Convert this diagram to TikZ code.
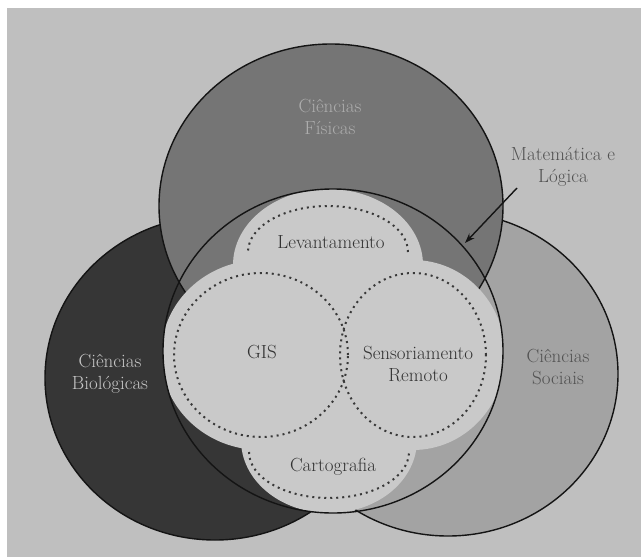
\documentclass[tikz,border=0pt]{standalone}
\usepackage{fontspec}
\usetikzlibrary{arrows.meta}
\definecolor{bgc}{gray}{0.75}
\definecolor{topc}{gray}{0.46}
\definecolor{leftc}{gray}{0.21}
\definecolor{rightc}{gray}{0.64}
\definecolor{clov}{gray}{0.79}
\definecolor{edgec}{gray}{0.08}
\definecolor{dotcol}{gray}{0.22}
\begin{document}
\begin{tikzpicture}[x=1pt,y=-1pt,
  venn/.style={draw=edgec, line width=1.4pt},
  dotline/.style={draw=dotcol, line width=2pt, dash pattern=on 2pt off 4pt},
  lab/.style={font=\fontsize{19}{22}\selectfont, align=center, inner sep=0pt},
]
\useasboundingbox (0,0) rectangle (641,557);
\fill[white] (0,0) rectangle (641,557);
\fill[bgc] (7,8) rectangle (641,557);
% outer circles
\path[venn, fill=leftc] (215,378) ellipse [x radius=170pt, y radius=162pt];
\path[venn, fill=rightc] (448,374) ellipse [x radius=170pt, y radius=162pt];
\path[venn, fill=topc] (331,206) ellipse [x radius=172pt, y radius=162pt];
% light clover region inside the middle circle
\begin{scope}
\clip (333,351) ellipse [x radius=170pt, y radius=162pt];
\fill[clov] (261,355) ellipse [x radius=100pt, y radius=95pt]
  (413,355) ellipse [x radius=92pt, y radius=95pt]
  (328,265) ellipse [x radius=95pt, y radius=76pt]
  (329,440) ellipse [x radius=88pt, y radius=73pt];
\end{scope}
\draw[venn] (333,351) ellipse [x radius=170pt, y radius=162pt];
% dotted inner shapes
\draw[dotline] (261,355) ellipse [x radius=87pt, y radius=82pt];
\draw[dotline] (413,355) ellipse [x radius=73pt, y radius=82pt];
\draw[dotline] (408,252) arc [start angle=0, end angle=180, x radius=80pt, y radius=46pt];
\draw[dotline] (249,452) arc [start angle=180, end angle=360, x radius=80pt, y radius=46pt];
% labels
\node[lab, text=black!32] (fis) at (330,117) {Ciências\\Físicas};
\node[lab, text=black!22] (bio) at (110,374) {Ciências\\Biológicas};
\node[lab, text=black!68] (soc) at (558,367) {Ciências\\Sociais};
\node[lab, text=black!80] (lev) at (331,242) {Levantamento};
\node[lab, text=black!80] (gis) at (262,352) {GIS};
\node[lab, text=black!80] (sens) at (418,364) {Sensoriamento\\Remoto};
\node[lab, text=black!80] (cart) at (333,467) {Cartografia};
\node[lab, text=black!68] (mat) at (563,167) {Matemática e\\Lógica};
% arrow
\coordinate (mtail) at (517,188);
\coordinate (mtip) at (465,243);
\draw[-{Stealth[length=10pt,width=7pt]}, line width=1.4pt, draw=edgec, fill=edgec] (mtail) -- (mtip);
\end{tikzpicture}
\end{document}
